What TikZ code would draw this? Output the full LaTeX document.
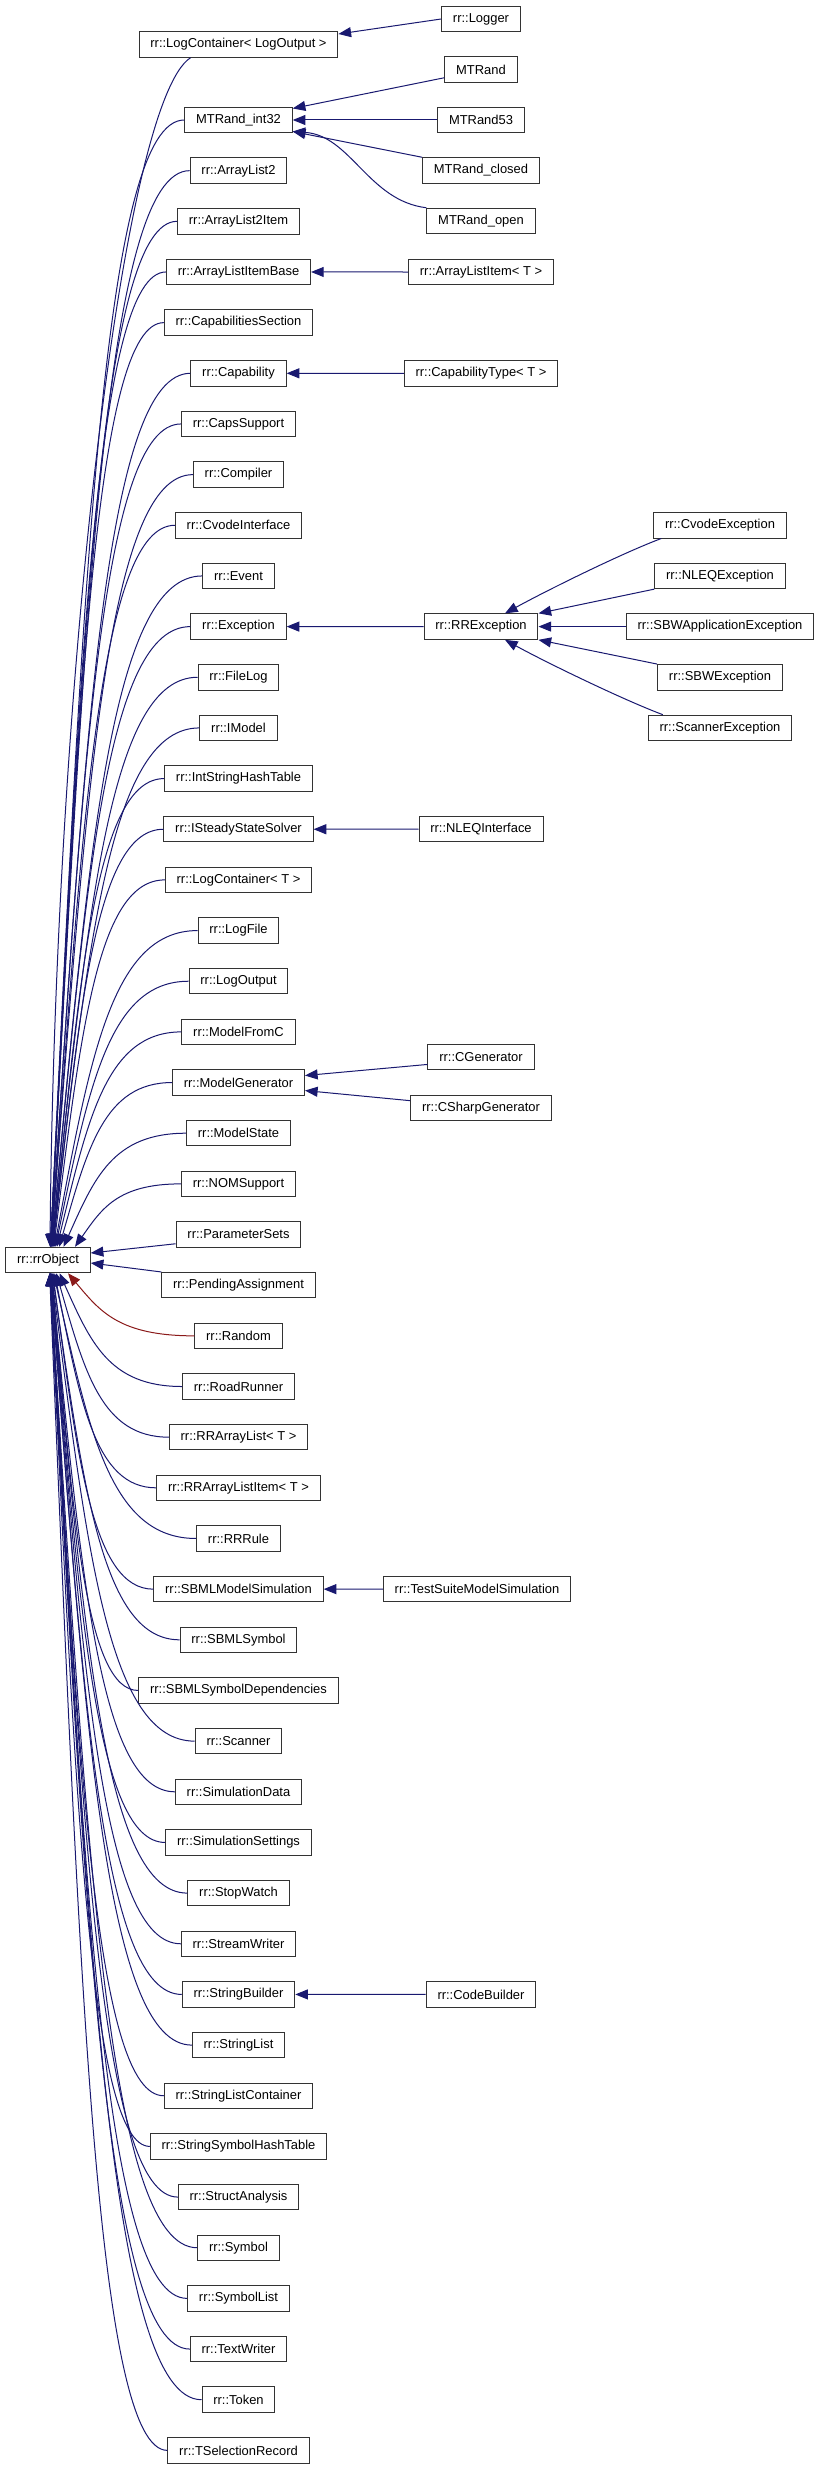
\documentclass[tikz,border=0pt]{standalone}
\usepackage{fontspec}
\setmainfont{Liberation Sans}
\usetikzlibrary{arrows.meta,calc}
\definecolor{Navy}{HTML}{191970}
\definecolor{Firebrick}{HTML}{8B1A1A}
\tikzset{
  cls/.style={draw=black!80,fill=white,line width=.75pt,minimum height=19.1pt,inner xsep=8.5pt,inner ysep=0pt,font=\fontsize{9.7}{11}\selectfont},
  inh/.style={-{Triangle[length=9.5pt,width=7.5pt]},line width=.75pt,draw=Navy}
}
\begin{document}
\begin{tikzpicture}[x=.75pt,y=-.75pt]
\useasboundingbox[fill=white] (0,0) rectangle (821,2469);
\node[cls] (rrObject) at (48,1260) {rr::rrObject};
\node[cls] (logger) at (481,19) {rr::Logger};
\node[cls] (lco) at (238.5,44.5) {rr::LogContainer< LogOutput >};
\node[cls] (mtRand) at (481,69.5) {MTRand};
\node[cls] (mtRand53) at (481,120) {MTRand53};
\node[cls] (mtRandClosed) at (481,170.5) {MTRand\_closed};
\node[cls] (mtRandOpen) at (481,221) {MTRand\_open};
\node[cls] (arrayListItem) at (481,272) {rr::ArrayListItem< T >};
\node[cls] (capabilityType) at (481,373.3) {rr::CapabilityType< T >};
\node[cls] (rrException) at (481,626.6) {rr::RRException};
\node[cls] (nleqInterface) at (481,829.2) {rr::NLEQInterface};
\node[cls] (cGenerator) at (481,1057.2) {rr::CGenerator};
\node[cls] (cSharpGenerator) at (481,1107.9) {rr::CSharpGenerator};
\node[cls] (testSuite) at (477,1589.1) {rr::TestSuiteModelSimulation};
\node[cls] (codeBuilder) at (481,1994.4) {rr::CodeBuilder};
\node[cls] (cvodeException) at (720,525.3) {rr::CvodeException};
\node[cls] (nleqException) at (720,575.9) {rr::NLEQException};
\node[cls] (sbwAppException) at (720,626.6) {rr::SBWApplicationException};
\node[cls] (sbwException) at (720,677.3) {rr::SBWException};
\node[cls] (scannerException) at (720,727.9) {rr::ScannerException};
\foreach \nm/\txt [count=\i from 0] in {mtInt/MTRand\_int32, arrayList2/rr::ArrayList2,
    arrayList2Item/rr::ArrayList2Item, arrayListItemBase/rr::ArrayListItemBase,
    capabilitiesSection/rr::CapabilitiesSection, capability/rr::Capability,
    capsSupport/rr::CapsSupport, compiler/rr::Compiler, cvodeInterface/rr::CvodeInterface,
    event/rr::Event, exception/rr::Exception, fileLog/rr::FileLog, iModel/rr::IModel,
    intStringHashTable/rr::IntStringHashTable, iSteadyStateSolver/rr::ISteadyStateSolver,
    logContainerT/rr::LogContainer< T >, logFile/rr::LogFile, logOutput/rr::LogOutput,
    modelFromC/rr::ModelFromC, modelGenerator/rr::ModelGenerator, modelState/rr::ModelState,
    nomSupport/rr::NOMSupport, parameterSets/rr::ParameterSets,
    pendingAssignment/rr::PendingAssignment, random/rr::Random, roadRunner/rr::RoadRunner,
    rrArrayListT/rr::RRArrayList< T >, rrArrayListItemT/rr::RRArrayListItem< T >,
    rrRule/rr::RRRule, sbmlModelSimulation/rr::SBMLModelSimulation, sbmlSymbol/rr::SBMLSymbol,
    sbmlSymbolDependencies/rr::SBMLSymbolDependencies, scanner/rr::Scanner,
    simulationData/rr::SimulationData, simulationSettings/rr::SimulationSettings,
    stopWatch/rr::StopWatch, streamWriter/rr::StreamWriter, stringBuilder/rr::StringBuilder,
    stringList/rr::StringList, stringListContainer/rr::StringListContainer,
    stringSymbolHashTable/rr::StringSymbolHashTable, structAnalysis/rr::StructAnalysis,
    symbol/rr::Symbol, symbolList/rr::SymbolList, textWriter/rr::TextWriter,
    token/rr::Token, tSelectionRecord/rr::TSelectionRecord} {
  \node[cls] (\nm) at (238.5,{120+50.66*\i}) {\txt};
  \ifnum\i=24 \def\ec{Firebrick}\else\def\ec{Navy}\fi
  \ifnum\i<22
    \pgfmathsetmacro\dx{27/(22-\i)^0.8}
    \draw[inh] let \p1=(\nm.west), \p2=($(rrObject.north)+(\dx,0)$) in
      (\p1) .. controls +({-0.6*(\x1-\x2)},0) and +({0.25*(\x1-\x2)},{0.6*(\y1-\y2)}) .. (\p2);
  \fi
  \ifnum\i=22 \draw[inh] ($(\nm.south west)+(0,-4)$) -- ($(rrObject.east)+(0,-7)$); \fi
  \ifnum\i=23 \draw[inh] (\nm.north west) -- ($(rrObject.east)+(0,3)$); \fi
  \ifnum\i>23
    \pgfmathsetmacro\dx{20/(\i-23)^0.8}
    \draw[inh,draw=\ec] let \p1=(\nm.west), \p2=($(rrObject.south)+(\dx,0)$) in
      (\p1) .. controls +({-0.6*(\x1-\x2)},0) and +({0.25*(\x1-\x2)},{0.6*(\y1-\y2)}) .. (\p2);
  \fi
}
\draw[inh] ($(lco.south west)!.26!(lco.south east)$) .. controls +(-70,45) and +(5,-550) .. ($(rrObject.north)+(2,0)$);
\draw[inh] (logger.west) -- (lco.6);
\draw[inh] ($(mtRand.south west)+(0,-5)$) -- (mtInt.12);
\draw[inh] (mtRand53.west) -- (mtInt.east);
\draw[inh] (mtRandClosed.north west) -- (mtInt.-12);
\draw[inh] (mtRandOpen.north west) .. controls +(-58,-7) and +(58,4) .. (mtInt.-12);
\draw[inh] (arrayListItem.west) -- (arrayListItemBase.east);
\draw[inh] (capabilityType.west) -- (capability.east);
\draw[inh] (rrException.west) -- (exception.east);
\draw[inh] ($(cvodeException.south west)+(8,0)$) .. controls +(-40,15) and +(40,-22) .. ($(rrException.north)+(24,0)$);
\draw[inh] (nleqException.south west) -- (rrException.north east);
\draw[inh] (sbwAppException.west) -- (rrException.east);
\draw[inh] (sbwException.north west) -- (rrException.south east);
\draw[inh] ($(scannerException.north west)+(15,0)$) .. controls +(-40,-15) and +(40,22) .. ($(rrException.south)+(24,0)$);
\draw[inh] (nleqInterface.west) -- (iSteadyStateSolver.east);
\draw[inh] ($(cGenerator.south west)+(0,-6)$) -- ($(modelGenerator.east)+(0,-7)$);
\draw[inh] ($(cSharpGenerator.north west)+(0,6)$) -- ($(modelGenerator.east)+(0,8)$);
\draw[inh] (testSuite.west) -- (sbmlModelSimulation.east);
\draw[inh] (codeBuilder.west) -- (stringBuilder.east);
\end{tikzpicture}
\end{document}
